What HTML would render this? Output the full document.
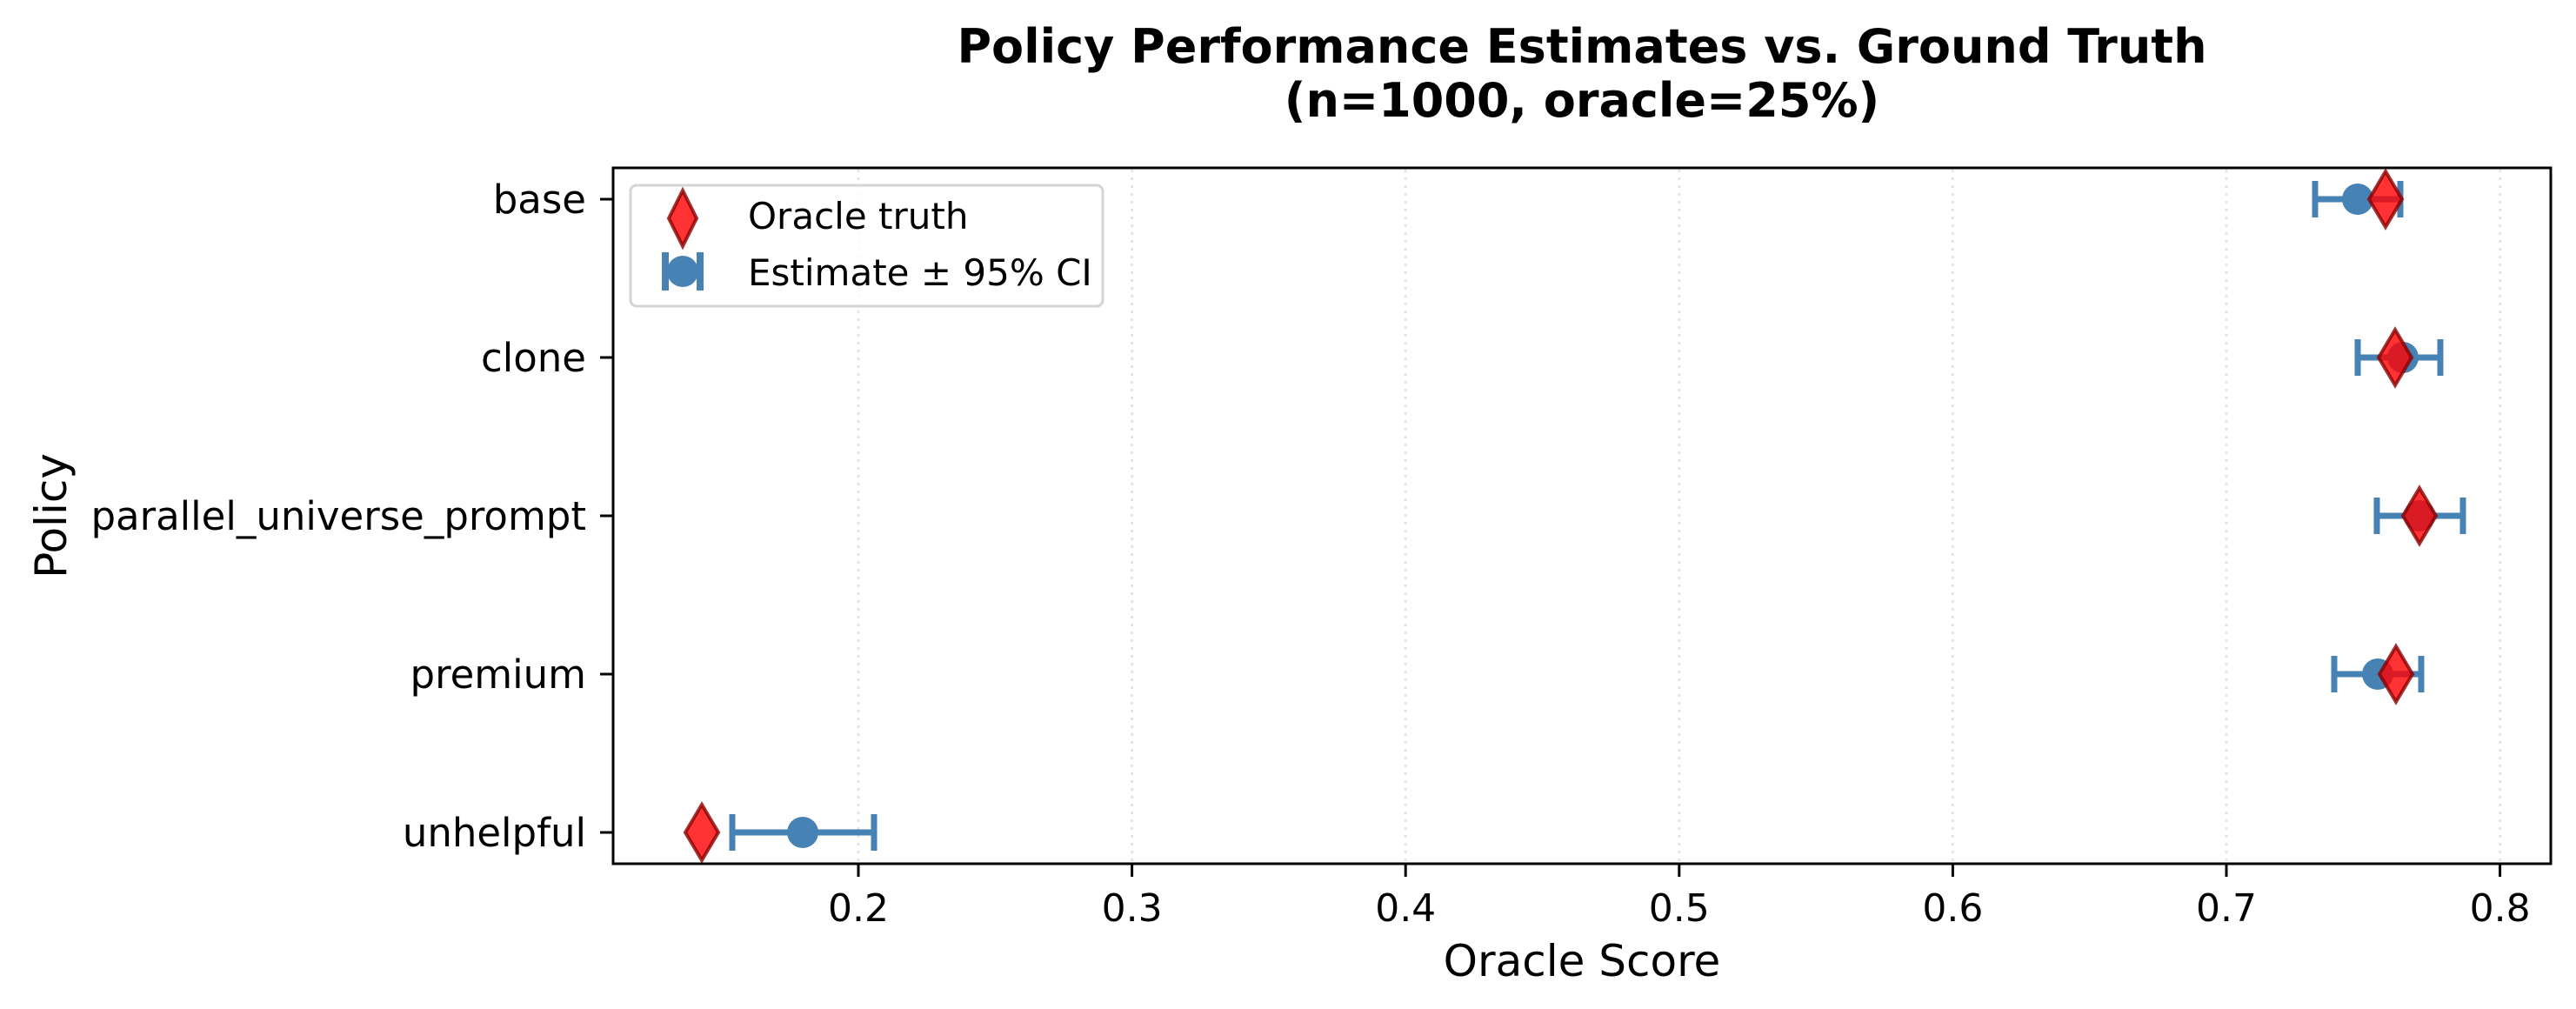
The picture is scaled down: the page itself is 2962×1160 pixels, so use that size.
<!DOCTYPE html>
<html><head><meta charset="utf-8"><style>
html,body{margin:0;padding:0;background:#fff;}
svg{display:block;}
text{font-family:"DejaVu Sans","Liberation Sans",sans-serif;fill:#000;}
</style></head><body>
<svg width="2962" height="1160" viewBox="0 0 2962 1160" xmlns="http://www.w3.org/2000/svg">
<rect width="2962" height="1160" fill="#fff"/>
<text x="1819" y="72" font-size="54" font-weight="bold" text-anchor="middle">Policy Performance Estimates vs. Ground Truth</text>
<text x="1819" y="134" font-size="54" font-weight="bold" text-anchor="middle">(n=1000, oracle=25%)</text>
<g stroke="#e4e4e4" stroke-width="3" stroke-dasharray="3,6">
<line x1="987" y1="195" x2="987" y2="992"/>
<line x1="1301.6" y1="195" x2="1301.6" y2="992"/>
<line x1="1616.2" y1="195" x2="1616.2" y2="992"/>
<line x1="1930.8" y1="195" x2="1930.8" y2="992"/>
<line x1="2245.4" y1="195" x2="2245.4" y2="992"/>
<line x1="2560" y1="195" x2="2560" y2="992"/>
<line x1="2874.6" y1="195" x2="2874.6" y2="992"/>
</g>
<rect x="705" y="193" width="2228" height="800" fill="none" stroke="#000" stroke-width="3"/>
<g stroke="#000" stroke-width="3">
<line x1="987" y1="993" x2="987" y2="1008"/>
<line x1="1301.6" y1="993" x2="1301.6" y2="1008"/>
<line x1="1616.2" y1="993" x2="1616.2" y2="1008"/>
<line x1="1930.8" y1="993" x2="1930.8" y2="1008"/>
<line x1="2245.4" y1="993" x2="2245.4" y2="1008"/>
<line x1="2560" y1="993" x2="2560" y2="1008"/>
<line x1="2874.6" y1="993" x2="2874.6" y2="1008"/>
<line x1="690" y1="229" x2="705" y2="229"/>
<line x1="690" y1="411" x2="705" y2="411"/>
<line x1="690" y1="593" x2="705" y2="593"/>
<line x1="690" y1="775" x2="705" y2="775"/>
<line x1="690" y1="957" x2="705" y2="957"/>
</g>
<g font-size="44" text-anchor="middle">
<text x="987" y="1059">0.2</text>
<text x="1301.6" y="1059">0.3</text>
<text x="1616.2" y="1059">0.4</text>
<text x="1930.8" y="1059">0.5</text>
<text x="2245.4" y="1059">0.6</text>
<text x="2560" y="1059">0.7</text>
<text x="2874.6" y="1059">0.8</text>
</g>
<g font-size="45" text-anchor="end">
<text x="674" y="245">base</text>
<text x="674" y="427">clone</text>
<text x="674" y="609">parallel_universe_prompt</text>
<text x="674" y="791">premium</text>
<text x="674" y="973">unhelpful</text>
</g>
<text x="1819" y="1122" font-size="50" text-anchor="middle">Oracle Score</text>
<text transform="translate(76,593) rotate(-90)" font-size="50" text-anchor="middle">Policy</text>
<g stroke="#4682b4" stroke-width="7" fill="none">
<path d="M2662 229H2760M2662 208V250M2760 208V250"/>
<path d="M2711 411H2806M2711 390V432M2806 390V432"/>
<path d="M2733 593H2832M2733 572V614M2832 572V614"/>
<path d="M2684 775H2784M2684 754V796M2784 754V796"/>
<path d="M842 957H1005M842 936V978M1005 936V978"/>
</g>
<g fill="#4682b4">
<circle cx="2711" cy="229" r="18"/>
<circle cx="2763" cy="411" r="18"/>
<circle cx="2782" cy="593" r="18"/>
<circle cx="2734" cy="775" r="18"/>
<circle cx="923" cy="957" r="18"/>
</g>
<g fill="#ff0000" fill-opacity="0.8" stroke="#8b0000" stroke-opacity="0.8" stroke-width="4">
<path d="M2743 197L2762 229L2743 261L2724 229Z"/>
<path d="M2754 379L2773 411L2754 443L2735 411Z"/>
<path d="M2782 561L2801 593L2782 625L2763 593Z"/>
<path d="M2755 743L2774 775L2755 807L2736 775Z"/>
<path d="M807 925L826 957L807 989L788 957Z"/>
</g>
<rect x="725" y="213" width="543" height="139" rx="7" fill="#fff" fill-opacity="0.8" stroke="#d4d4d4" stroke-width="3"/>
<path d="M785 219L801 251L785 283L769 251Z" fill="#ff0000" fill-opacity="0.8" stroke="#8b0000" stroke-opacity="0.8" stroke-width="4"/>
<path d="M762 312H808M765 290V334M805 290V334" stroke="#4682b4" stroke-width="8" fill="none"/>
<circle cx="785" cy="312" r="18" fill="#4682b4"/>
<text x="860" y="263" font-size="42">Oracle truth</text>
<text x="860" y="328" font-size="42">Estimate ± 95% CI</text>
</svg>
</body></html>
